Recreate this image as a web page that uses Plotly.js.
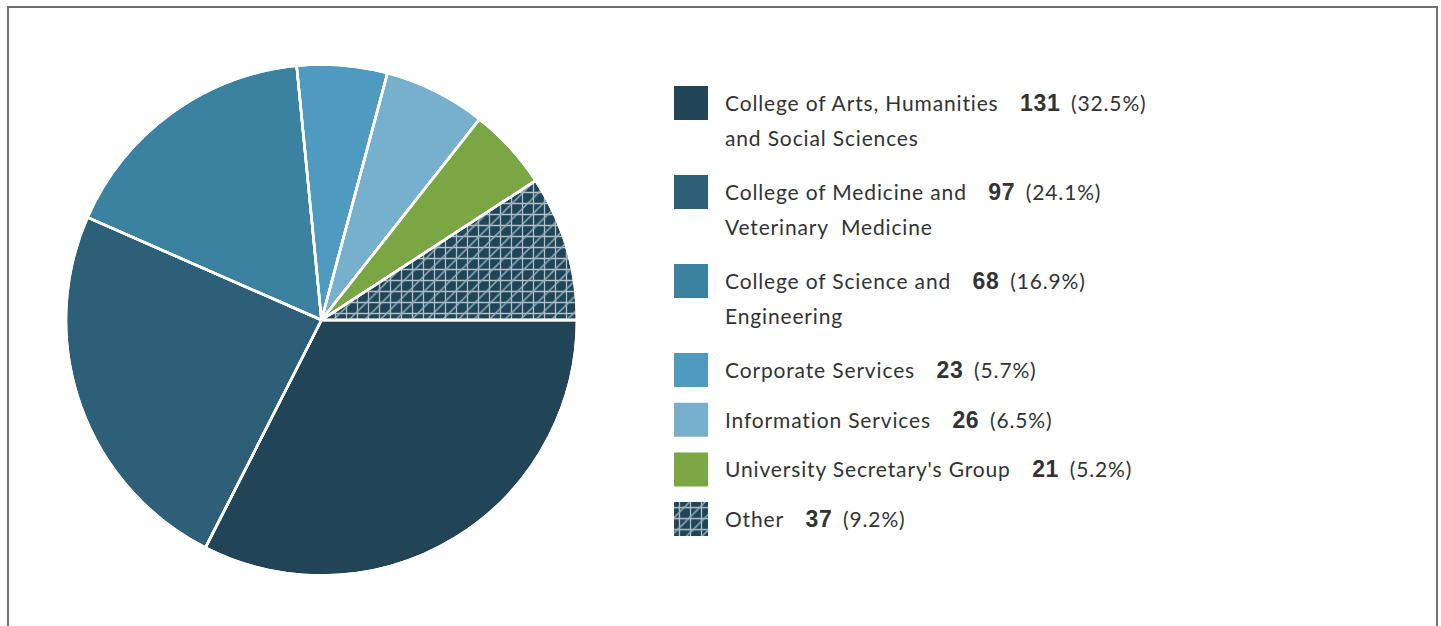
<!DOCTYPE html>
<html>
<head>
<meta charset="utf-8">
<script src="https://cdn.plot.ly/plotly-3.0.1.min.js"></script>
<style>html,body{margin:0;padding:0;background:#fff;}#chart{width:1441px;height:626px;}</style>
</head>
<body>
<div id="chart"></div>
<script>
// ---- data ----
const categories = [
  'College of Arts, Humanities<br>and Social Sciences',
  'College of Medicine and<br>Veterinary  Medicine',
  'College of Science and<br>Engineering',
  'Corporate Services',
  'Information Services',
  "University Secretary's Group",
  'Other'
];
const counts = [131, 97, 68, 23, 26, 21, 37];
const sliceColors = ['#214457', '#2d6078', '#3a829f', '#4f9bbf', '#77b0cd', '#7aa744', '#1f4558'];

// ---- layout helpers ----
const W = 1441, H = 626;
const px = x => x / W;
const py = y => 1 - y / H;
const total = counts.reduce((a, b) => a + b, 0);
const pct = counts.map(v => (v / total * 100).toFixed(1) + '%');
const lastIdx = categories.length - 1;
const patternShape = categories.map((c, i) => i === lastIdx ? '+' : '');
const patternShape2 = categories.map((c, i) => i === lastIdx ? '/' : '');
const patFg = '#b3c2ca';
const patFg2 = '#98aeb9';

const pieDomain = {x: [px(66), px(577)], y: [py(576), py(64)]};

const traces = [
  {
    type: 'pie', labels: categories, values: counts, sort: false,
    direction: 'clockwise', rotation: 90, textinfo: 'none', hoverinfo: 'none',
    domain: pieDomain, showlegend: false,
    marker: {colors: sliceColors, line: {color: '#ffffff', width: 2.5},
      pattern: {shape: patternShape, fgcolor: patFg, bgcolor: sliceColors, size: 11, solidity: 0.22}}
  },
  {
    type: 'pie', labels: categories.map(c => c + ' '), values: counts, sort: false,
    direction: 'clockwise', rotation: 90, textinfo: 'none', hoverinfo: 'none',
    domain: pieDomain, showlegend: false,
    marker: {colors: categories.map(() => 'rgba(0,0,0,0)'), line: {color: '#ffffff', width: 2.5},
      pattern: {shape: patternShape2, fgcolor: patFg2, bgcolor: 'rgba(0,0,0,0)', size: 11, solidity: 0.14}}
  }
];

const shapes = [
  {type: 'rect', xref: 'paper', yref: 'paper', x0: px(8), x1: px(1437), y0: -0.1, y1: py(7),
   line: {color: '#6f6f6f', width: 2}, fillcolor: 'rgba(0,0,0,0)'}
];
const annotations = [];

const swX0 = 674, swX1 = 708, textX = 723;
const txtStyle = 'letter-spacing:0.85px';
const fontMain = {family: 'Lato, sans-serif', size: 21, color: '#333333'};
let rowTop = 86;
const swatchTops = [];
categories.forEach((cat, i) => {
  const lines = cat.split('<br>');
  swatchTops.push(rowTop);
  if (i !== lastIdx) {
    shapes.push({type: 'rect', xref: 'paper', yref: 'paper', x0: px(swX0), x1: px(swX1),
      y0: py(rowTop + 34), y1: py(rowTop), fillcolor: sliceColors[i], line: {width: 0}});
  }
  const numPart = '<span style="font-family:\'Liberation Sans\', Arial, sans-serif;font-weight:bold;font-size:23px;letter-spacing:0.6px">' + counts[i] + '</span>';
  const first = '<span style="' + txtStyle + '">' + lines[0] + '</span>&nbsp;&nbsp;&nbsp; ' + numPart +
    '&nbsp; <span style="' + txtStyle + '">(' + pct[i] + ')</span>';
  annotations.push({xref: 'paper', yref: 'paper', x: px(textX), y: py(rowTop + 17), xanchor: 'left', yanchor: 'middle',
    text: first, showarrow: false, font: fontMain});
  if (lines.length > 1) {
    annotations.push({xref: 'paper', yref: 'paper', x: px(textX), y: py(rowTop + 17 + 34), xanchor: 'left', yanchor: 'middle',
      text: '<span style="' + txtStyle + '">' + lines[1] + '</span>', showarrow: false, font: fontMain});
  }
  rowTop += lines.length > 1 ? 89 : 49.7;
});

// patterned swatch for the last category, drawn as bars so the library's pattern is used
const oTop = swatchTops[lastIdx];
traces.push({type: 'bar', x: [0], y: [1], xaxis: 'x', yaxis: 'y', hoverinfo: 'none', showlegend: false,
  marker: {color: sliceColors[lastIdx], line: {width: 0},
    pattern: {shape: '+', fgcolor: patFg, bgcolor: sliceColors[lastIdx], size: 11, solidity: 0.22}}});
traces.push({type: 'bar', x: [0], y: [1], xaxis: 'x', yaxis: 'y', hoverinfo: 'none', showlegend: false,
  marker: {color: 'rgba(0,0,0,0)', line: {width: 0},
    pattern: {shape: '/', fgcolor: patFg2, bgcolor: 'rgba(0,0,0,0)', size: 11, solidity: 0.14}}});

const layout = {
  width: W, height: H, margin: {l: 0, r: 0, t: 0, b: 0},
  paper_bgcolor: '#ffffff', plot_bgcolor: 'rgba(0,0,0,0)',
  showlegend: false, barmode: 'overlay', bargap: 0,
  xaxis: {domain: [px(swX0), px(swX1)], range: [-0.5, 0.5], visible: false, fixedrange: true},
  yaxis: {domain: [py(oTop + 34), py(oTop)], range: [0, 1], visible: false, fixedrange: true},
  shapes: shapes, annotations: annotations
};

Plotly.newPlot('chart', traces, layout, {displayModeBar: false, staticPlot: true});
</script>
</body>
</html>
